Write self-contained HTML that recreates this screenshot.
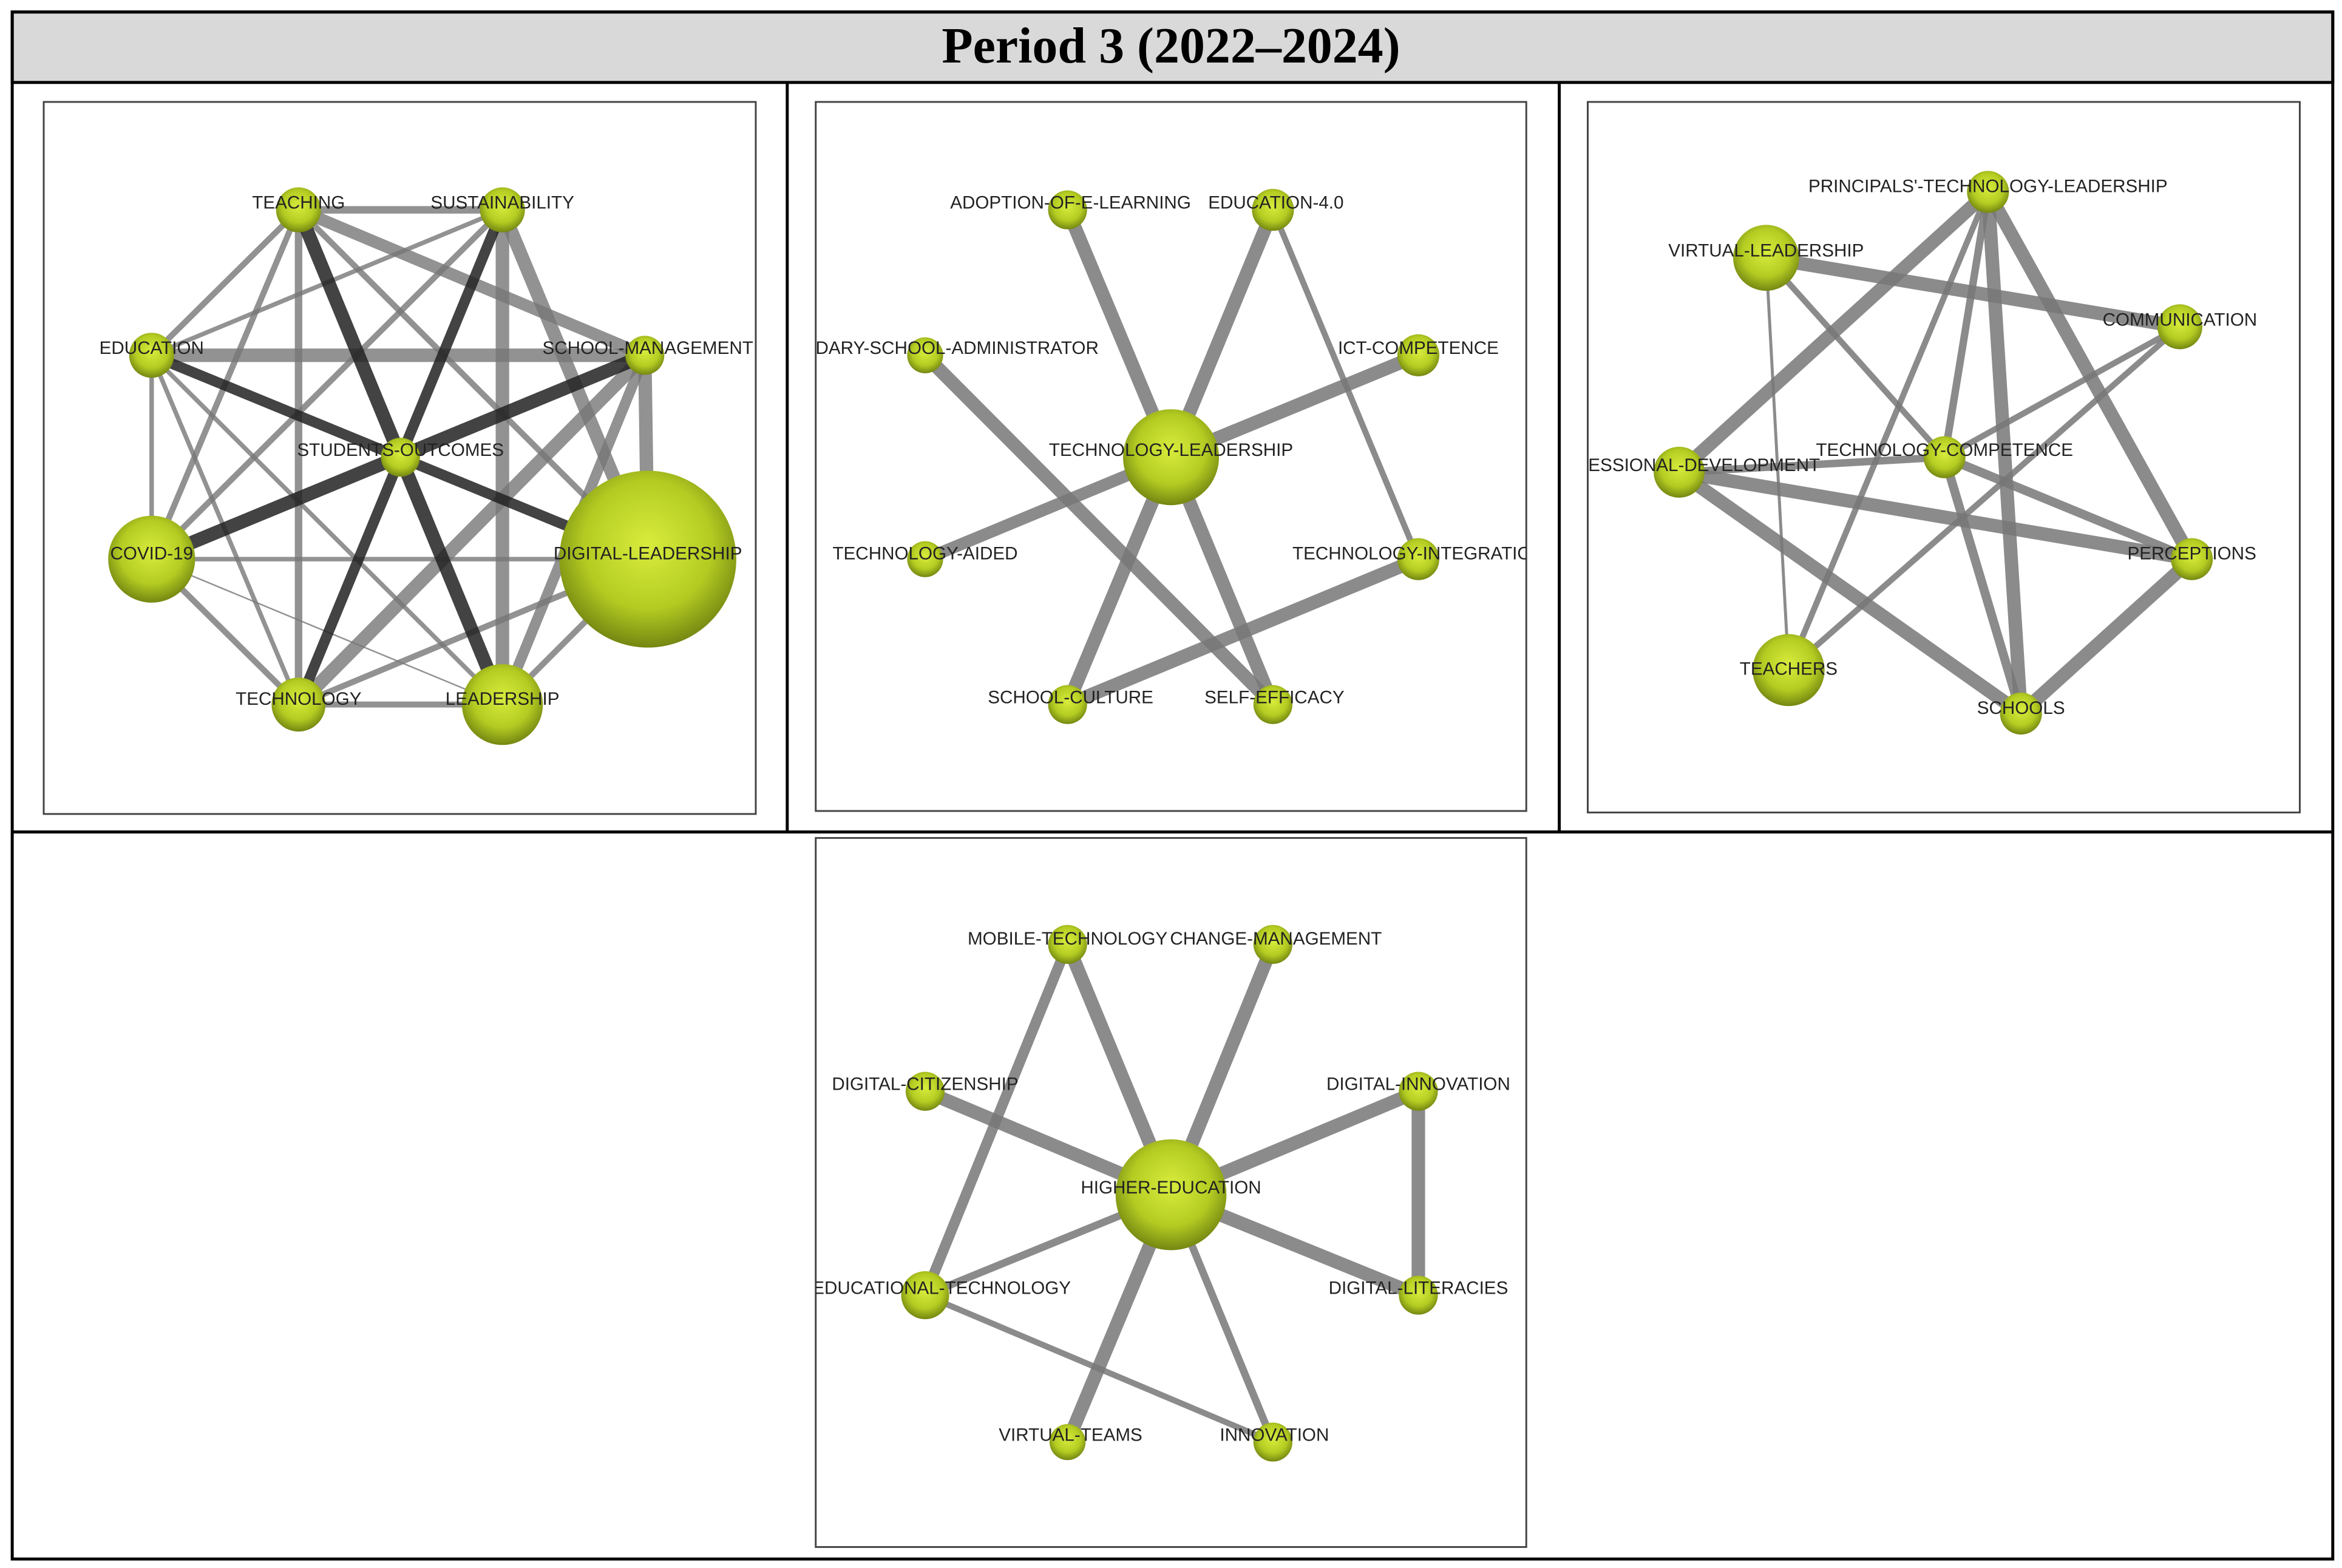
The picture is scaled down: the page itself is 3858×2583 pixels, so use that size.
<!DOCTYPE html>
<html><head><meta charset="utf-8"><style>
html,body{margin:0;padding:0;background:#fff;}
svg{display:block;}
text{font-family:"Liberation Sans",sans-serif;font-size:12px;fill:#222;text-anchor:middle;dominant-baseline:middle;}
</style></head><body>
<svg width="3858" height="2583" viewBox="0 0 1562 1046" xmlns="http://www.w3.org/2000/svg">
<defs>
<radialGradient id="g" cx="0.5" cy="0.42" r="0.6">
<stop offset="0" stop-color="#d8ec3c"/><stop offset="0.6" stop-color="#b4cc22"/><stop offset="1" stop-color="#6f8010"/>
</radialGradient>
<clipPath id="c1"><rect x="29" y="68" width="475" height="475"/></clipPath>
<clipPath id="c2"><rect x="544" y="68" width="474" height="473"/></clipPath>
<clipPath id="c3"><rect x="1059" y="68" width="475" height="474"/></clipPath>
<clipPath id="c4"><rect x="544" y="559" width="474" height="473"/></clipPath>
</defs>
<rect x="0" y="0" width="1562" height="1046" fill="#fff"/>
<rect x="8" y="8" width="1548" height="47" fill="#d9d9d9" stroke="#000" stroke-width="2"/>
<text x="781" y="34" style="font-family:'Liberation Serif',serif;font-size:34px;font-weight:bold;fill:#000">Period 3 (2022–2024)</text>
<rect x="8" y="8" width="1548" height="1032" fill="none" stroke="#000" stroke-width="2"/>
<line x1="8" y1="555" x2="1556" y2="555" stroke="#000" stroke-width="2"/>
<line x1="525" y1="55" x2="525" y2="555" stroke="#000" stroke-width="2"/>
<line x1="1040" y1="55" x2="1040" y2="555" stroke="#000" stroke-width="2"/>
<g fill="none" stroke="#444" stroke-width="1.2">
<rect x="29" y="68" width="475" height="475"/><rect x="544" y="68" width="474" height="473"/>
<rect x="1059" y="68" width="475" height="474"/><rect x="544" y="559" width="474" height="473"/>
</g>

<!-- Panel 1 -->
<g clip-path="url(#c1)" stroke-linecap="round">
<g stroke="#777" stroke-opacity="0.8">
<line x1="101" y1="237" x2="430" y2="237" stroke-width="9"/>
<line x1="335" y1="140" x2="335" y2="470" stroke-width="9"/>
<line x1="335" y1="140" x2="432" y2="373" stroke-width="9"/>
<line x1="199" y1="140" x2="430" y2="237" stroke-width="8"/>
<line x1="430" y1="237" x2="432" y2="373" stroke-width="9"/>
<line x1="430" y1="237" x2="199" y2="470" stroke-width="9"/>
<line x1="430" y1="237" x2="335" y2="470" stroke-width="7"/>
<line x1="199" y1="140" x2="199" y2="470" stroke-width="5"/>
<line x1="199" y1="140" x2="101" y2="237" stroke-width="4"/>
<line x1="199" y1="140" x2="101" y2="373" stroke-width="4"/>
<line x1="199" y1="140" x2="335" y2="140" stroke-width="5"/>
<line x1="199" y1="140" x2="432" y2="373" stroke-width="4"/>
<line x1="101" y1="237" x2="101" y2="373" stroke-width="3"/>
<line x1="101" y1="237" x2="199" y2="470" stroke-width="3"/>
<line x1="101" y1="237" x2="335" y2="470" stroke-width="3"/>
<line x1="101" y1="237" x2="335" y2="140" stroke-width="3"/>
<line x1="101" y1="373" x2="432" y2="373" stroke-width="3"/>
<line x1="101" y1="373" x2="199" y2="470" stroke-width="4"/>
<line x1="101" y1="373" x2="335" y2="470" stroke-width="1"/>
<line x1="101" y1="373" x2="335" y2="140" stroke-width="4"/>
<line x1="199" y1="470" x2="335" y2="470" stroke-width="4"/>
<line x1="199" y1="470" x2="432" y2="373" stroke-width="4"/>
<line x1="335" y1="470" x2="432" y2="373" stroke-width="4"/>
</g>
<g stroke="#222" stroke-opacity="0.85">
<line x1="199" y1="140" x2="335" y2="470" stroke-width="9"/>
<line x1="101" y1="373" x2="430" y2="237" stroke-width="9"/>
<line x1="101" y1="237" x2="432" y2="373" stroke-width="7"/>
<line x1="335" y1="140" x2="199" y2="470" stroke-width="7"/>
</g>
<g fill="url(#g)">
<circle cx="199" cy="140" r="15"/><circle cx="335" cy="140" r="15"/><circle cx="101" cy="237" r="15"/>
<circle cx="430" cy="237" r="13"/><circle cx="267" cy="305" r="13"/><circle cx="101" cy="373" r="29"/>
<circle cx="432" cy="373" r="59"/><circle cx="199" cy="470" r="18"/><circle cx="335" cy="470" r="27"/>
</g>
<text x="199" y="136">TEACHING</text><text x="335" y="136">SUSTAINABILITY</text><text x="101" y="233">EDUCATION</text>
<text x="432" y="233">SCHOOL-MANAGEMENT</text><text x="267" y="301">STUDENTS-OUTCOMES</text><text x="101" y="370">COVID-19</text>
<text x="432" y="370">DIGITAL-LEADERSHIP</text><text x="199" y="467">TECHNOLOGY</text><text x="335" y="467">LEADERSHIP</text>
</g>

<!-- Panel 2 -->
<g clip-path="url(#c2)" stroke-linecap="round">
<g stroke="#777" stroke-opacity="0.85">
<line x1="781" y1="305" x2="712" y2="140" stroke-width="9"/>
<line x1="781" y1="305" x2="849" y2="140" stroke-width="9"/>
<line x1="781" y1="305" x2="946" y2="237" stroke-width="9"/>
<line x1="781" y1="305" x2="617" y2="373" stroke-width="8"/>
<line x1="781" y1="305" x2="712" y2="470" stroke-width="9"/>
<line x1="781" y1="305" x2="849" y2="470" stroke-width="9"/>
<line x1="617" y1="237" x2="849" y2="470" stroke-width="9"/>
<line x1="849" y1="140" x2="946" y2="373" stroke-width="4"/>
<line x1="712" y1="470" x2="946" y2="373" stroke-width="9"/>
</g>
<g fill="url(#g)">
<circle cx="781" cy="305" r="32"/><circle cx="712" cy="140" r="13"/><circle cx="849" cy="140" r="14"/>
<circle cx="617" cy="237" r="12"/><circle cx="946" cy="237" r="14"/><circle cx="617" cy="373" r="12"/>
<circle cx="946" cy="373" r="14"/><circle cx="712" cy="470" r="13"/><circle cx="849" cy="470" r="13"/>
</g>
<text x="714" y="136">ADOPTION-OF-E-LEARNING</text><text x="851" y="136">EDUCATION-4.0</text>
<text x="617" y="233">SECONDARY-SCHOOL-ADMINISTRATOR</text><text x="946" y="233">ICT-COMPETENCE</text>
<text x="781" y="301">TECHNOLOGY-LEADERSHIP</text><text x="617" y="370">TECHNOLOGY-AIDED</text>
<text x="946" y="370">TECHNOLOGY-INTEGRATION</text><text x="714" y="466">SCHOOL-CULTURE</text><text x="850" y="466">SELF-EFFICACY</text>
</g>

<!-- Panel 3 -->
<g clip-path="url(#c3)" stroke-linecap="round">
<g stroke="#777" stroke-opacity="0.85">
<line x1="1326" y1="128" x2="1120" y2="315" stroke-width="9"/>
<line x1="1178" y1="172" x2="1454" y2="218" stroke-width="9"/>
<line x1="1326" y1="128" x2="1297" y2="305" stroke-width="5"/>
<line x1="1326" y1="128" x2="1348" y2="476" stroke-width="9"/>
<line x1="1326" y1="128" x2="1462" y2="373" stroke-width="9"/>
<line x1="1326" y1="128" x2="1193" y2="447" stroke-width="4"/>
<line x1="1178" y1="172" x2="1193" y2="447" stroke-width="2"/>
<line x1="1178" y1="172" x2="1297" y2="305" stroke-width="4"/>
<line x1="1120" y1="315" x2="1297" y2="305" stroke-width="5"/>
<line x1="1120" y1="315" x2="1462" y2="373" stroke-width="9"/>
<line x1="1120" y1="315" x2="1348" y2="476" stroke-width="9"/>
<line x1="1297" y1="305" x2="1454" y2="218" stroke-width="4"/>
<line x1="1297" y1="305" x2="1462" y2="373" stroke-width="6"/>
<line x1="1297" y1="305" x2="1348" y2="476" stroke-width="6"/>
<line x1="1454" y1="218" x2="1193" y2="447" stroke-width="4"/>
<line x1="1462" y1="373" x2="1348" y2="476" stroke-width="9"/>
</g>
<g fill="url(#g)">
<circle cx="1326" cy="128" r="14"/><circle cx="1178" cy="172" r="22"/><circle cx="1454" cy="218" r="15"/>
<circle cx="1120" cy="315" r="17"/><circle cx="1297" cy="305" r="14"/><circle cx="1462" cy="373" r="14"/>
<circle cx="1193" cy="447" r="24"/><circle cx="1348" cy="476" r="14"/>
</g>
<text x="1326" y="125">PRINCIPALS'-TECHNOLOGY-LEADERSHIP</text><text x="1178" y="168">VIRTUAL-LEADERSHIP</text>
<text x="1454" y="214">COMMUNICATION</text><text x="1120" y="311">PROFESSIONAL-DEVELOPMENT</text>
<text x="1297" y="301">TECHNOLOGY-COMPETENCE</text><text x="1462" y="370">PERCEPTIONS</text>
<text x="1193" y="447">TEACHERS</text><text x="1348" y="473">SCHOOLS</text>
</g>

<!-- Panel 4 -->
<g clip-path="url(#c4)" stroke-linecap="round">
<g stroke="#777" stroke-opacity="0.85">
<line x1="781" y1="797" x2="712" y2="630" stroke-width="9"/>
<line x1="781" y1="797" x2="849" y2="630" stroke-width="9"/>
<line x1="781" y1="797" x2="617" y2="728" stroke-width="9"/>
<line x1="781" y1="797" x2="946" y2="728" stroke-width="9"/>
<line x1="781" y1="797" x2="617" y2="864" stroke-width="5"/>
<line x1="781" y1="797" x2="946" y2="864" stroke-width="9"/>
<line x1="781" y1="797" x2="712" y2="962" stroke-width="9"/>
<line x1="781" y1="797" x2="849" y2="962" stroke-width="5"/>
<line x1="712" y1="630" x2="617" y2="864" stroke-width="7"/>
<line x1="946" y1="728" x2="946" y2="864" stroke-width="9"/>
<line x1="617" y1="864" x2="849" y2="962" stroke-width="4"/>
</g>
<g fill="url(#g)">
<circle cx="781" cy="797" r="37"/><circle cx="712" cy="630" r="13"/><circle cx="849" cy="630" r="13"/>
<circle cx="617" cy="728" r="13"/><circle cx="946" cy="728" r="13"/><circle cx="617" cy="864" r="16"/>
<circle cx="946" cy="864" r="13"/><circle cx="712" cy="962" r="12"/><circle cx="849" cy="962" r="13"/>
</g>
<text x="712" y="627">MOBILE-TECHNOLOGY</text><text x="851" y="627">CHANGE-MANAGEMENT</text>
<text x="617" y="724">DIGITAL-CITIZENSHIP</text><text x="946" y="724">DIGITAL-INNOVATION</text>
<text x="781" y="793">HIGHER-EDUCATION</text><text x="628" y="860">EDUCATIONAL-TECHNOLOGY</text>
<text x="946" y="860">DIGITAL-LITERACIES</text><text x="714" y="958">VIRTUAL-TEAMS</text><text x="850" y="958">INNOVATION</text>
</g>
</svg>
</body></html>
